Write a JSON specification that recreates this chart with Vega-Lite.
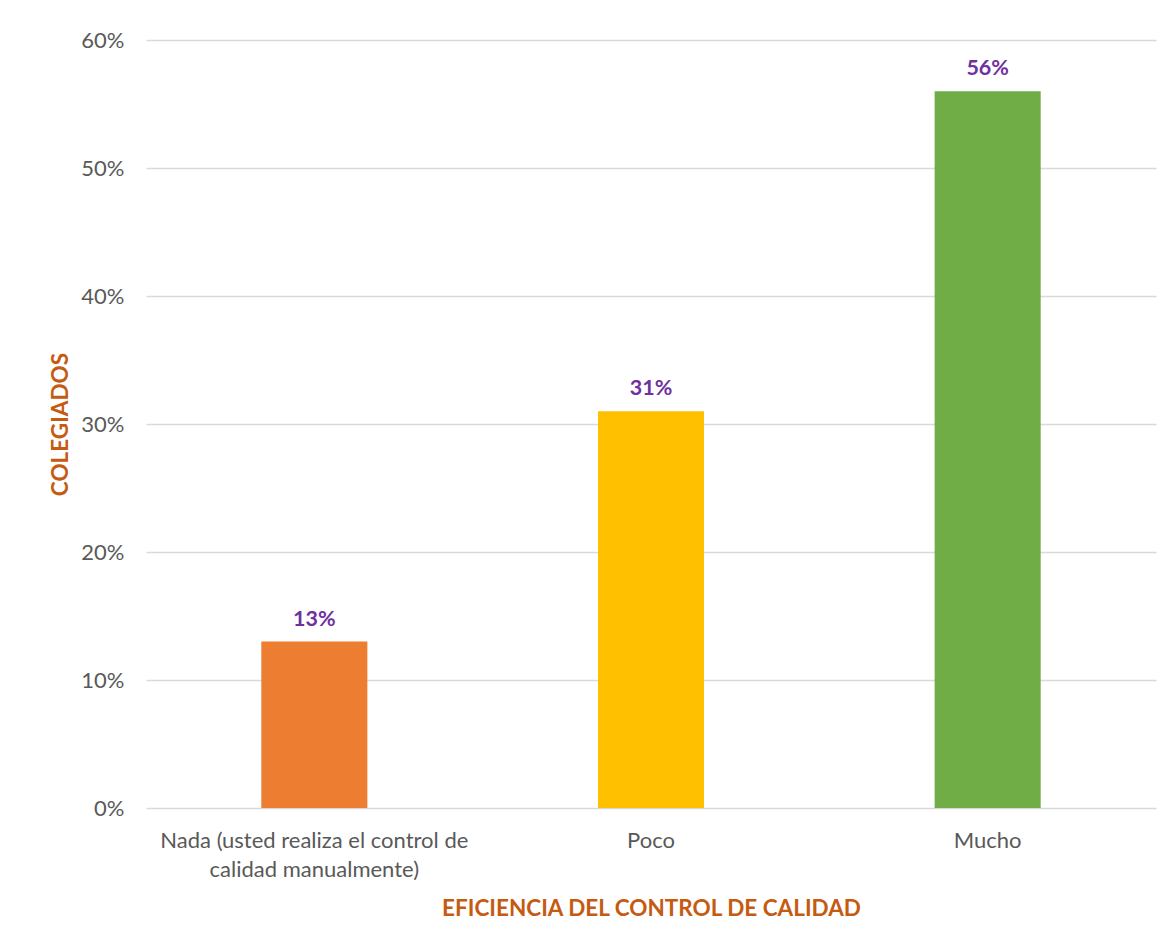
{
  "$schema": "https://vega.github.io/schema/vega-lite/v6.json",
  "autosize": "none",
  "width": 1010,
  "height": 768,
  "padding": {"left": 146, "top": 40, "right": 16, "bottom": 139},
  "background": "white",
  "config": {"view": {"stroke": null}, "font": "Lato"},
  "data": {"values": [
    {"categoria": "Nada (usted realiza el control de calidad manualmente)", "valor": 0.13, "color": "#ED7D31"},
    {"categoria": "Poco", "valor": 0.31, "color": "#FFC000"},
    {"categoria": "Mucho", "valor": 0.56, "color": "#70AD47"}
  ]},
  "encoding": {
    "x": {
      "field": "categoria", "type": "nominal", "sort": null,
      "scale": {"paddingInner": 0.685, "paddingOuter": 0.3425},
      "axis": {
        "title": "EFICIENCIA DEL CONTROL DE CALIDAD",
        "titleFont": "Lato", "titleFontSize": 22.5, "titleFontWeight": "bold", "titleColor": "#C55A11",
        "titlePadding": 17,
        "labelAngle": 0, "labelFontSize": 22, "labelColor": "#595959", "labelFont": "Lato",
        "labelPadding": 22, "labelLineHeight": 29, "labelLimit": 0, "labelOverlap": false,
        "labelExpr": "datum.value == 'Nada (usted realiza el control de calidad manualmente)' ? ['Nada (usted realiza el control de', 'calidad manualmente)'] : datum.value",
        "ticks": false, "domain": false
      }
    },
    "y": {
      "field": "valor", "type": "quantitative",
      "scale": {"domain": [0, 0.6]},
      "axis": {
        "title": "COLEGIADOS", "format": ".0%", "values": [0, 0.1, 0.2, 0.3, 0.4, 0.5, 0.6],
        "titleFont": "Lato", "titleFontSize": 22.5, "titleFontWeight": "bold", "titleColor": "#C55A11",
        "titlePadding": 8,
        "labelFontSize": 22, "labelColor": "#595959", "labelFont": "Lato", "labelPadding": 22,
        "labelOverlap": false, "labelLimit": 0,
        "ticks": false, "domain": false,
        "grid": true, "gridColor": "#D9D9D9", "gridWidth": 1.3
      }
    }
  },
  "layer": [
    {"mark": {"type": "bar"}, "encoding": {"color": {"field": "color", "type": "nominal", "scale": null}}},
    {"mark": {"type": "text", "baseline": "bottom", "dy": -11, "fontSize": 21.5, "fontWeight": "bold", "color": "#7030A0", "font": "Lato"},
     "encoding": {"text": {"field": "valor", "type": "quantitative", "format": ".0%"}}}
  ]
}
